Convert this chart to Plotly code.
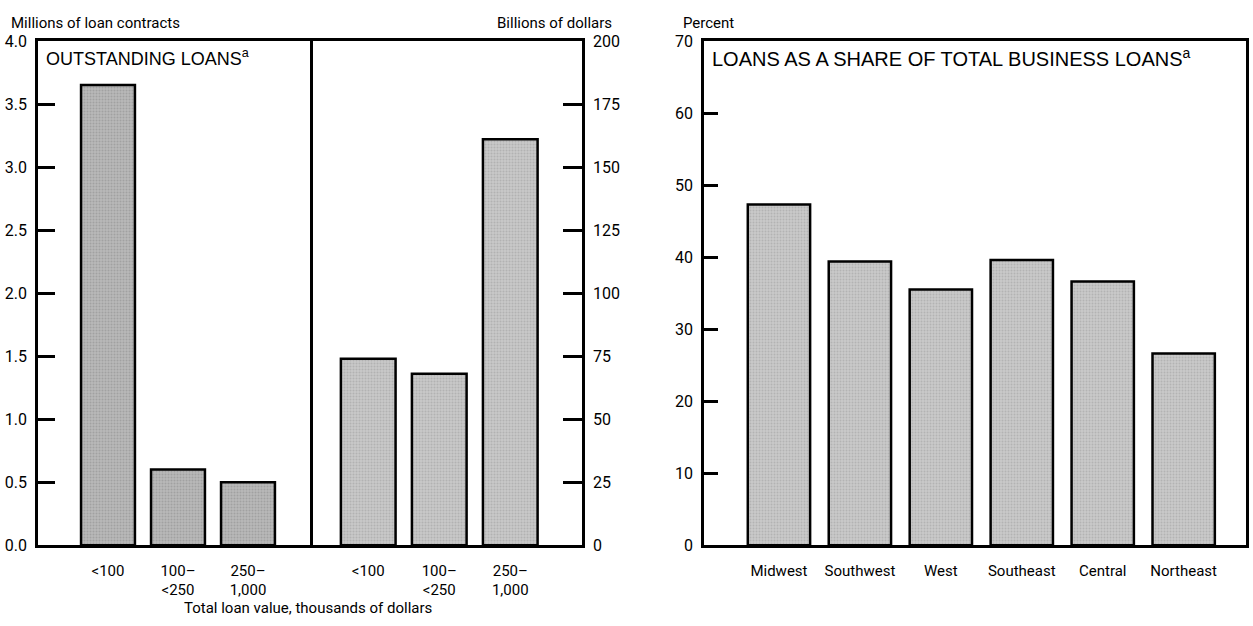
import plotly.graph_objects as go

# Loan-size buckets (thousands of dollars)
size_classes = ["<100", "100-<250", "250-1,000"]
size_labels = ["&lt;100", "100–<br>&lt;250", "250–<br>1,000"]

# Outstanding loans: number of contracts (millions) and value (billions of dollars)
contracts_millions = [3.65, 0.60, 0.50]
value_billions = [74, 68, 161]

# Regional share of total business loans (percent)
regions = ["Midwest", "Southwest", "West", "Southeast", "Central", "Northeast"]
share_percent = [47.3, 39.4, 35.5, 39.6, 36.6, 26.6]

W, H = 1253, 626
NARROW = "Roboto, Liberation Sans Narrow, Arial Narrow, sans-serif"
WIDE = "Liberation Sans, Arial, Helvetica, sans-serif"
LINE_W = 2.5


def px_x(v):
    return v / W


def px_y(v):
    return 1 - v / H


def stipple(bg, fg):
    # fine dotted screen used for the bar fills
    return dict(shape=".", bgcolor=bg, fgcolor=fg, size=3, solidity=0.35)


y_dom = [px_y(553), px_y(33)]
tick_font = dict(family=NARROW, size=16, color="black")
cat_font = dict(family=NARROW, size=15, color="black")

fig = go.Figure()

fig.add_trace(go.Bar(
    x=size_classes, y=contracts_millions, xaxis="x", yaxis="y", width=0.77,
    marker=dict(color="#a9a9a9", pattern=stipple("#b8b8b8", "#8a8a8a"),
                line=dict(color="black", width=LINE_W)),
    showlegend=False,
))
fig.add_trace(go.Bar(
    x=size_classes, y=value_billions, xaxis="x2", yaxis="y2", width=0.77,
    marker=dict(color="#bcbcbc", pattern=stipple("#c8c8c8", "#9c9c9c"),
                line=dict(color="black", width=LINE_W)),
    showlegend=False,
))
fig.add_trace(go.Bar(
    x=regions, y=share_percent, xaxis="x3", yaxis="y3", width=0.77,
    marker=dict(color="#bdbdbd", pattern=stipple("#c9c9c9", "#9d9d9d"),
                line=dict(color="black", width=LINE_W)),
    showlegend=False,
))

frame = dict(showline=True, linecolor="black", linewidth=LINE_W, showgrid=False, zeroline=False)

fig.update_layout(
    width=W, height=H,
    margin=dict(l=0, r=0, t=0, b=0),
    paper_bgcolor="white", plot_bgcolor="white",
    font=dict(family=NARROW, size=15, color="black"),
    xaxis=dict(domain=[px_x(38), px_x(310)], anchor="y", type="category",
               range=[-1.0, 2.886], mirror=True, ticks="",
               tickmode="array", tickvals=size_classes, ticktext=size_labels,
               tickfont=cat_font, ticklabelstandoff=10, **frame),
    yaxis=dict(domain=y_dom, anchor="x", range=[0, 4], dtick=0.5, tickformat=".1f",
               ticks="inside", ticklen=17, tickwidth=LINE_W, tickcolor="black",
               mirror=True, tickfont=tick_font, ticklabelstandoff=5, **frame),
    xaxis2=dict(domain=[px_x(310), px_x(582)], anchor="y2", type="category",
                range=[-0.82, 3.01], mirror=True, ticks="",
                tickmode="array", tickvals=size_classes, ticktext=size_labels,
                tickfont=cat_font, ticklabelstandoff=10, **frame),
    yaxis2=dict(domain=y_dom, anchor="x2", side="right", range=[0, 200], dtick=25,
                ticks="inside", ticklen=19, tickwidth=LINE_W, tickcolor="black",
                tickfont=tick_font, ticklabelstandoff=5, **frame),
    xaxis3=dict(domain=[px_x(704), px_x(1246)], anchor="y3", type="category",
                range=[-0.926, 5.77], mirror=True, ticks="",
                tickfont=cat_font, ticklabelstandoff=10, **frame),
    yaxis3=dict(domain=y_dom, anchor="x3", range=[0, 70], dtick=10,
                ticks="inside", ticklen=14, tickwidth=LINE_W, tickcolor="black",
                mirror=True, tickfont=tick_font, ticklabelstandoff=5, **frame),
)

notes = [
    dict(text="Millions of loan contracts", x=px_x(10), y=px_y(14), xanchor="left",
         font=dict(family=NARROW, size=15)),
    dict(text="Billions of dollars", x=px_x(613), y=px_y(14), xanchor="right",
         font=dict(family=NARROW, size=15)),
    dict(text="Percent", x=px_x(682), y=px_y(14), xanchor="left",
         font=dict(family=NARROW, size=15)),
    dict(text="OUTSTANDING LOANS<sup>a</sup>", x=px_x(45), y=px_y(50), xanchor="left",
         font=dict(family=WIDE, size=18)),
    dict(text="LOANS AS A SHARE OF TOTAL BUSINESS LOANS<sup>a</sup>", x=px_x(711), y=px_y(50),
         xanchor="left", font=dict(family=WIDE, size=20)),
    dict(text="Total loan value, thousands of dollars", x=px_x(308), y=px_y(618),
         xanchor="center", font=dict(family=NARROW, size=15)),
]
for n in notes:
    fig.add_annotation(xref="paper", yref="paper", showarrow=False, yanchor="middle",
                       borderpad=0, **n)

fig.write_html("out.html")
